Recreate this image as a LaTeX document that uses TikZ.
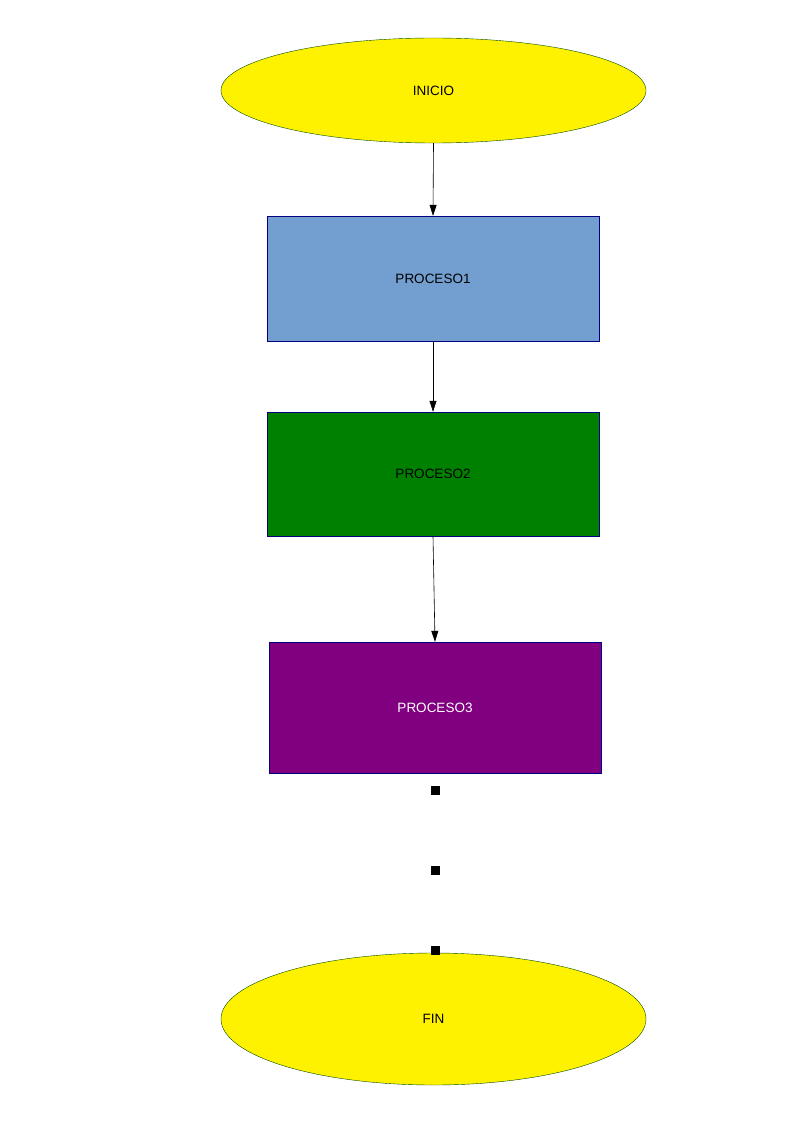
\documentclass[tikz,border=0pt]{standalone}
\usepackage{fontspec}
\setmainfont{Liberation Sans}
\usetikzlibrary{shapes.geometric,arrows.meta}
\begin{document}
\begin{tikzpicture}[x=1pt,y=-1pt,
  every node/.style={font=\fontsize{13.5}{16}\selectfont},
  ell/.style={ellipse,draw=black!70!green,fill=yellow,inner sep=0pt},
  box/.style={rectangle,draw=blue!50!black,inner sep=0pt,minimum width=332pt},
  arr/.style={-{Triangle[length=11pt,width=7pt]},line width=0.6pt},
  dot/.style={rectangle,fill=black,minimum size=9pt,inner sep=0pt}]
\useasboundingbox (0,0) rectangle (794,1123);
\node[ell,minimum width=425pt,minimum height=105pt] (ini) at (433.5,90.5) {INICIO};
\node[box,fill={rgb,255:red,114;green,159;blue,207},minimum height=125pt] (p1) at (433,278.5) {PROCESO1};
\node[box,fill={rgb,255:red,0;green,128;blue,0},minimum height=124pt] (p2) at (433,474) {PROCESO2};
\node[box,fill={rgb,255:red,128;green,0;blue,128},minimum height=131pt,text=white] (p3) at (435,707.5) {PROCESO3};
\node[ell,minimum width=425pt,minimum height=132pt] (fin) at (433.5,1019) {FIN};
\node[dot] (d1) at (435,790) {};
\node[dot] (d2) at (435,870) {};
\node[dot] (d3) at (435,950) {};
\draw[arr] (ini.south) -- (p1.north);
\draw[arr] (p1.south) -- (p2.north);
\draw[arr] (p2.south) -- (p3.north);
\end{tikzpicture}
\end{document}
